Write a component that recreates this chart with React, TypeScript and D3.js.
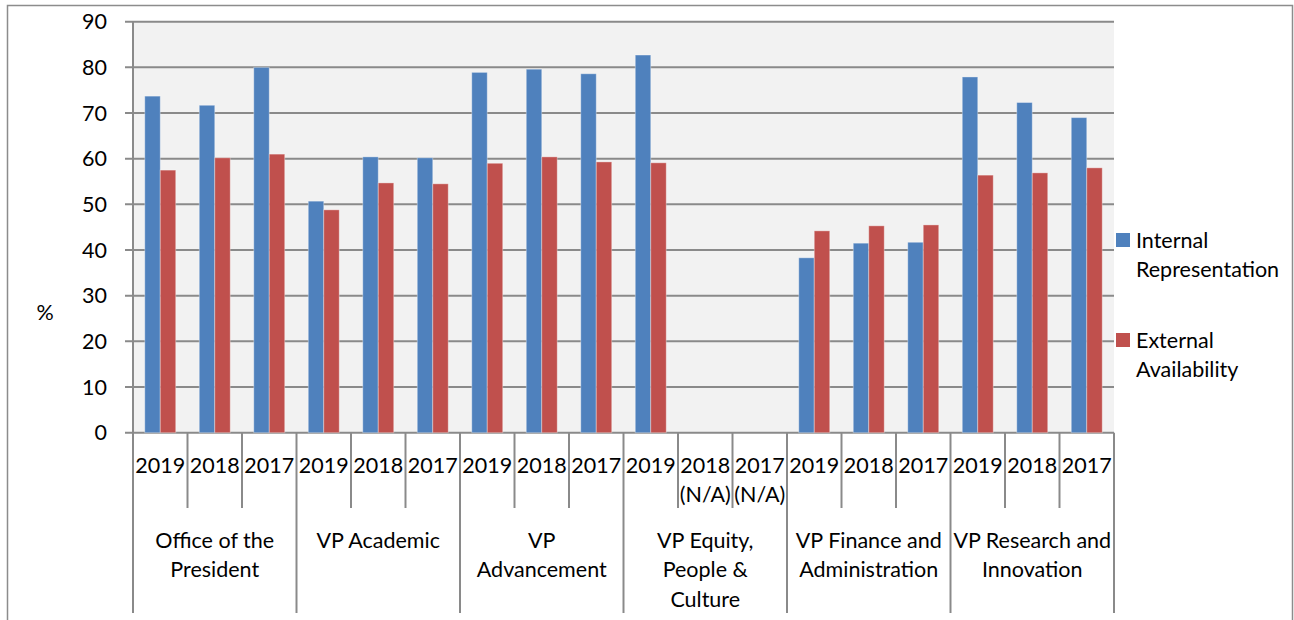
import React from "react";
import * as d3 from "d3";

const groups = [
  ["Office of the", "President"],
  ["VP Academic"],
  ["VP", "Advancement"],
  ["VP Equity,", "People &", "Culture"],
  ["VP Finance and", "Administration"],
  ["VP Research and", "Innovation"],
];
const years = [
  ["2019"], ["2018"], ["2017"],
  ["2019"], ["2018"], ["2017"],
  ["2019"], ["2018"], ["2017"],
  ["2019"], ["2018", "(N/A)"], ["2017", "(N/A)"],
  ["2019"], ["2018"], ["2017"],
  ["2019"], ["2018"], ["2017"],
];
const internalRep: (number | null)[] = [73.7, 71.7, 80.0, 50.7, 60.4, 60.2, 78.9, 79.6, 78.6, 82.7, null, null, 38.3, 41.5, 41.7, 77.9, 72.3, 69.0];
const externalAvail: (number | null)[] = [57.5, 60.2, 61.0, 48.8, 54.7, 54.5, 59.0, 60.4, 59.3, 59.1, null, null, 44.2, 45.3, 45.5, 56.4, 56.9, 58.0];
const seriesNames = ["Internal Representation", "External Availability"];
const seriesLegend = [["Internal", "Representation"], ["External", "Availability"]];
const seriesColors = ["#4F81BD", "#C0504D"];
const yTicks = [0, 10, 20, 30, 40, 50, 60, 70, 80, 90];

const W = 1294, H = 620;
const L = 133, R = 1114, T = 21.7, B = 432.7;
const FONT = "Lato, 'Liberation Sans', Arial, sans-serif";
const FS = 21.5;
const GRID = "#8A8A8A";

export default function App() {
  const idx = years.map((_, i) => i);
  const x0 = d3.scaleBand<number>().domain(idx).range([L, R]).padding(0);
  const x1 = d3.scaleBand<number>().domain([0, 1]).range([0, x0.bandwidth()]).paddingInner(0).paddingOuter(0.76);
  const y = d3.scaleLinear().domain([0, 90]).range([B, T]);
  const series = [internalRep, externalAvail];

  const groupBounds: number[] = [];
  let k = 0;
  groups.forEach(() => { groupBounds.push(k); k += 3; });

  return (
    <svg width={W} height={H} style={{ position: "absolute", left: 0, top: 0, background: "#fff" }} fontFamily={FONT}>
      {/* outer frame */}
      <path d={`M7.5,${H} V5.5 H1292.5 V${H}`} fill="none" stroke="#8C8C8C" strokeWidth={1.5} />
      {/* plot background */}
      <rect x={L} y={T} width={R - L} height={B - T} fill="#F2F2F2" />
      {/* gridlines */}
      {yTicks.map((t) => (
        <line key={t} x1={L - 8} x2={R} y1={y(t)} y2={y(t)} stroke={GRID} strokeWidth={2} />
      ))}
      {/* y labels */}
      {yTicks.map((t) => (
        <text key={"l" + t} x={107} y={y(t)} dy="0.36em" textAnchor="end" fontSize={FS} fill="#000">{t}</text>
      ))}
      <text x={45} y={312} dy="0.36em" textAnchor="middle" fontSize={FS} fill="#000">%</text>
      {/* bars */}
      {series.map((vals, s) =>
        vals.map((v, i) =>
          v == null ? null : (
            <rect key={s + "-" + i}
              x={(x0(i) as number) + (x1(s) as number)}
              y={y(v)}
              width={x1.bandwidth()}
              height={B - y(v)}
              fill={seriesColors[s]}
              stroke="rgba(255,255,255,0.35)" strokeWidth={1} />
          )
        )
      )}
      {/* y axis */}
      <line x1={L} x2={L} y1={T} y2={613} stroke={GRID} strokeWidth={2} />
      {/* year separators */}
      {idx.map((i) => {
        const xx = x0(i) as number;
        if (i === 0) return null;
        const isGroup = i % 3 === 0;
        return <line key={"s" + i} x1={xx} x2={xx} y1={B} y2={isGroup ? 613 : 508} stroke={GRID} strokeWidth={2} />;
      })}
      <line x1={R} x2={R} y1={B} y2={613} stroke={GRID} strokeWidth={2} />
      {/* year labels */}
      {years.map((lines, i) => (
        <text key={"y" + i} textAnchor="middle" fontSize={FS} fill="#000">
          {lines.map((ln, j) => (
            <tspan key={j} x={(x0(i) as number) + x0.bandwidth() / 2} y={465 + j * 29.5} dy="0.36em">{ln}</tspan>
          ))}
        </text>
      ))}
      {/* group labels */}
      {groups.map((lines, g) => {
        const cx = (x0(groupBounds[g]) as number) + (x0.bandwidth() * 3) / 2;
        return (
          <text key={"g" + g} textAnchor="middle" fontSize={FS} fill="#000">
            {lines.map((ln, j) => (
              <tspan key={j} x={cx} y={540 + j * 29.7} dy="0.36em">{ln}</tspan>
            ))}
          </text>
        );
      })}
      {/* legend */}
      {seriesNames.map((name, s) => {
        const top = 233 + s * 100;
        return (
          <g key={name}>
            <rect x={1116} y={top} width={14} height={14} fill={seriesColors[s]} />
            {seriesLegend[s].map((ln, j) => (
              <text key={j} x={1136} y={top + 7 + j * 29.7} dy="0.36em" fontSize={FS} fill="#000">{ln}</text>
            ))}
          </g>
        );
      })}
    </svg>
  );
}
